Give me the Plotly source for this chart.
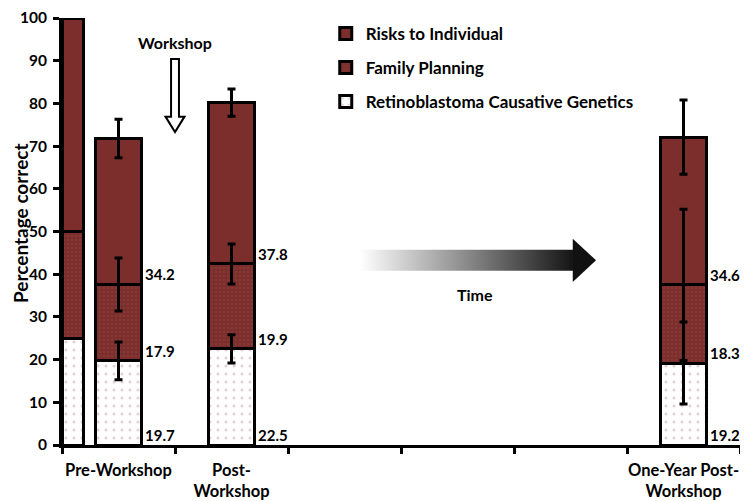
import numpy as np
import plotly.graph_objects as go

# ---- data ----
x_pos = [-0.407, 0, 1, 5]              # reference bar + three time points
bar_widths = [0.186, 0.41, 0.41, 0.41]
genetics = [25, 19.7, 22.5, 19.2]
family = [25, 17.9, 19.9, 18.3]
risks = [50, 34.2, 37.8, 34.6]
genetics_err = [4.4, 3.3, 9.6]
family_err = [6.2, 4.7, 17.7]
risks_err = [4.5, 3.2, 8.7]
cat_pos = [0, 1, 5]
cat_labels = ["Pre-Workshop", "Post-<br>Workshop", "One-Year Post-<br>Workshop"]
names = ["Retinoblastoma Causative Genetics", "Family Planning", "Risks to Individual"]
y_ticks = list(range(0, 101, 10))

FONT = "Lato"
RED = "#7b2e2b"

fig = go.Figure()
line = dict(color="black", width=3)
fig.add_trace(go.Bar(x=x_pos, y=genetics, width=bar_widths, name=names[0],
                     legendgroup="g", legendrank=3,
                     marker=dict(color="white", line=line,
                                 pattern=dict(shape=".", fillmode="overlay", fgcolor="#c8a3a3",
                                              size=8, solidity=0.12))))
fig.add_trace(go.Bar(x=x_pos, y=family, width=bar_widths, name=names[1],
                     legendgroup="f", legendrank=2,
                     marker=dict(color=RED, line=line,
                                 pattern=dict(shape=".", fillmode="overlay", fgcolor="#8d4340",
                                              size=4, solidity=0.3))))
fig.add_trace(go.Bar(x=x_pos, y=risks, width=bar_widths, name=names[2],
                     legendgroup="r", legendrank=1,
                     marker=dict(color=RED, line=line)))

# error bars at segment tops (drawn above bars)
g = np.array(genetics[1:])
f = np.array(family[1:])
r = np.array(risks[1:])
tops = [g, g + f, g + f + r]
errs = [genetics_err, family_err, risks_err]
for t, e in zip(tops, errs):
    fig.add_trace(go.Scatter(x=cat_pos, y=t, mode="markers", marker=dict(size=1, color="rgba(0,0,0,0)"),
                             error_y=dict(type="data", array=e, visible=True, color="black",
                                          thickness=3, width=4),
                             showlegend=False, hoverinfo="skip"))

# value labels to the right of each bar, at each segment's base
bases = [np.zeros(3), g, g + f]
vals = [g, f, r]
for b, v in zip(bases, vals):
    for xc, yb, val in zip(cat_pos, b, v):
        fig.add_annotation(x=xc + 0.205, y=yb, text=f"{val}", showarrow=False,
                           xanchor="left", yanchor="bottom", xshift=1, yshift=-1,
                           font=dict(family=FONT, size=15, color="black", weight="bold"))

# Time arrow (gradient shaft + black head)
fig.add_trace(go.Scatter(x=[2.137, 4.022, 4.022, 2.137, 2.137], y=[45.7, 45.7, 40.8, 40.8, 45.7],
                         mode="lines", line=dict(width=0), fill="toself",
                         fillgradient=dict(type="horizontal",
                                           colorscale=[[0, "rgba(255,255,255,1)"], [1, "#151515"]]),
                         showlegend=False, hoverinfo="skip"))
fig.add_trace(go.Scatter(x=[4.02, 4.226, 4.02, 4.02], y=[48.3, 43.25, 38.2, 48.3],
                         mode="lines", line=dict(width=0, color="#111"), fill="toself",
                         fillcolor="#111", showlegend=False, hoverinfo="skip"))
fig.add_annotation(x=3.155, y=35.2, text="Time", showarrow=False,
                   font=dict(family=FONT, size=16, color="black", weight="bold"))

# Workshop arrow
fig.add_shape(type="path",
              path="M 0.465,90.4 L 0.535,90.4 L 0.535,76.9 L 0.584,76.9 L 0.5,73.3 L 0.416,76.9 L 0.465,76.9 Z",
              xref="x", yref="y", line=dict(color="black", width=2), fillcolor="white")
fig.add_annotation(x=0.5, y=94.2, text="Workshop", showarrow=False,
                   font=dict(family=FONT, size=16, color="black", weight="bold"))

# y-axis title
fig.add_annotation(x=-0.0605, y=0.52, xref="paper", yref="paper", text="Percentage correct",
                   textangle=-90, showarrow=False, xanchor="center", yanchor="middle",
                   font=dict(family=FONT, size=19, color="black", weight="bold"))

# page body has an 8px margin, so the figure is sized to fit the 748x501 window
fig.update_layout(
    width=740, height=493,
    margin=dict(l=54, r=8, t=10, b=56),
    barmode="stack",
    plot_bgcolor="white", paper_bgcolor="white",
    font=dict(family=FONT, color="black"),
    showlegend=True,
    legend=dict(x=0.389, y=1.005, xanchor="left", yanchor="top", traceorder="grouped",
                tracegroupgap=9, font=dict(family=FONT, size=17, color="black", weight="bold"),
                bgcolor="rgba(0,0,0,0)", itemwidth=30),
    xaxis=dict(range=[-0.5, 5.5], tickmode="array", tickvals=cat_pos, ticktext=cat_labels,
               ticks="", showline=True, linecolor="black", linewidth=3, showgrid=False, zeroline=False,
               automargin=False, ticklabelstandoff=8, ticklabeloverflow="allow",
               tickfont=dict(family=FONT, size=16.5, color="black", weight="bold"),
               minor=dict(tickmode="linear", tick0=-0.5, dtick=1, ticks="outside", ticklen=6,
                          tickwidth=3, tickcolor="black", showgrid=False)),
    yaxis=dict(range=[0, 100], tickmode="array", tickvals=y_ticks,
               ticks="outside", ticklen=6, tickwidth=3, tickcolor="black",
               showline=True, linecolor="black", linewidth=3, showgrid=False, zeroline=False,
               automargin=False, ticklabelstandoff=3, ticklabeloverflow="allow",
               tickfont=dict(family=FONT, size=15.5, color="black", weight="bold")),
)

fig.write_html("out.html")
